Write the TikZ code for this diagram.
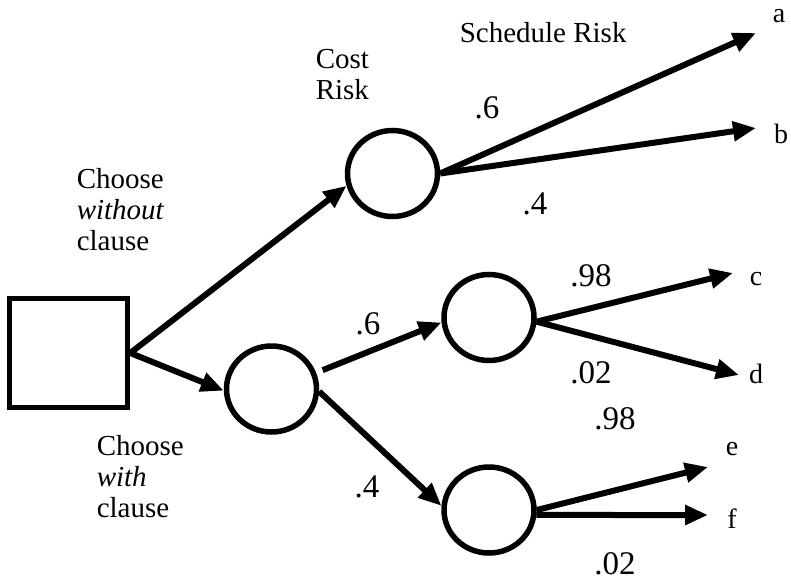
\documentclass[tikz,border=0pt]{standalone}
\usepackage{fontspec}
\setmainfont{Liberation Serif}
\usetikzlibrary{arrows.meta,shapes.geometric}
\begin{document}
\begin{tikzpicture}[x=1pt,y=-1pt,
  line width=5.5pt,
  decision/.style={draw,rectangle,minimum width=118pt,minimum height=109pt,inner sep=0pt},
  chance/.style={draw,ellipse,minimum width=90pt,minimum height=86pt,inner sep=0pt},
  branch/.style={line width=6pt,-{Triangle[length=23pt,width=19pt]}},
  txt/.style={font=\fontsize{29}{31}\selectfont,inner sep=0pt,align=left},
  prob/.style={font=\fontsize{33}{36}\selectfont,inner sep=0pt,anchor=base},
  leaf/.style={font=\fontsize{28}{30}\selectfont,inner sep=0pt,anchor=base}]
\path[use as bounding box] (0,0) rectangle (791,583);

% decision and chance nodes
\node[decision] (sq) at (68.5,353) {};
\node[chance] (c1) at (392.5,173.5) {};
\node[chance] (c2) at (271.5,389) {};
\node[chance] (c3) at (489,317.5) {};
\node[chance] (c4) at (489,510) {};

% outcome labels
\node[leaf] (a) at (779,23) {a};
\node[leaf] (b) at (781,143) {b};
\node[leaf] (c) at (756,285) {c};
\node[leaf] (d) at (756,383) {d};
\node[leaf] (e) at (732,455) {e};
\node[leaf] (f) at (732,528) {f};

% arrow ends in front of the outcome labels
\coordinate (ta) at (756,33);
\coordinate (tb) at (756,128);
\coordinate (tc) at (733,273);
\coordinate (td) at (739,375);
\coordinate (te) at (708,467);
\coordinate (tf) at (708,515);

% headings
\node[txt,anchor=north west] (cost) at (313,47) {Cost\\Risk};
\node[txt,anchor=base west] (sched) at (457,43) {Schedule Risk};
\node[txt,anchor=north west] (without) at (74,166) {Choose\\\textit{without}\\clause};
\node[txt,anchor=north west] (with) at (94,433) {Choose\\\textit{with}\\clause};

% branches
\draw[branch] (sq.east) -- (c1.195);
\draw[branch] (sq.east) -- (c2.182);
\draw[branch,shorten <=7pt] (c2.20) -- (c3.186);
\draw[branch] (c2.-3) -- (c4.175);
\draw[branch] (c1.east) -- (ta);
\draw[branch] (c1.east) -- (tb);
\draw[branch] (c3.-5) -- (tc);
\draw[branch] (c3.-5) -- (td);
\draw[branch] (c4.east) -- (te);
\draw[branch] (c4.-6) -- (tf);

% probabilities
\node[prob] (p1) at (487,118) {.6};
\node[prob] (p2) at (535,214) {.4};
\node[prob] (p3) at (368,334) {.6};
\node[prob] (p4) at (367,497) {.4};
\node[prob] (p5) at (591,286) {.98};
\node[prob] (p6) at (591,383) {.02};
\node[prob] (p7) at (615,429) {.98};
\node[prob] (p8) at (615,574) {.02};
\end{tikzpicture}
\end{document}
